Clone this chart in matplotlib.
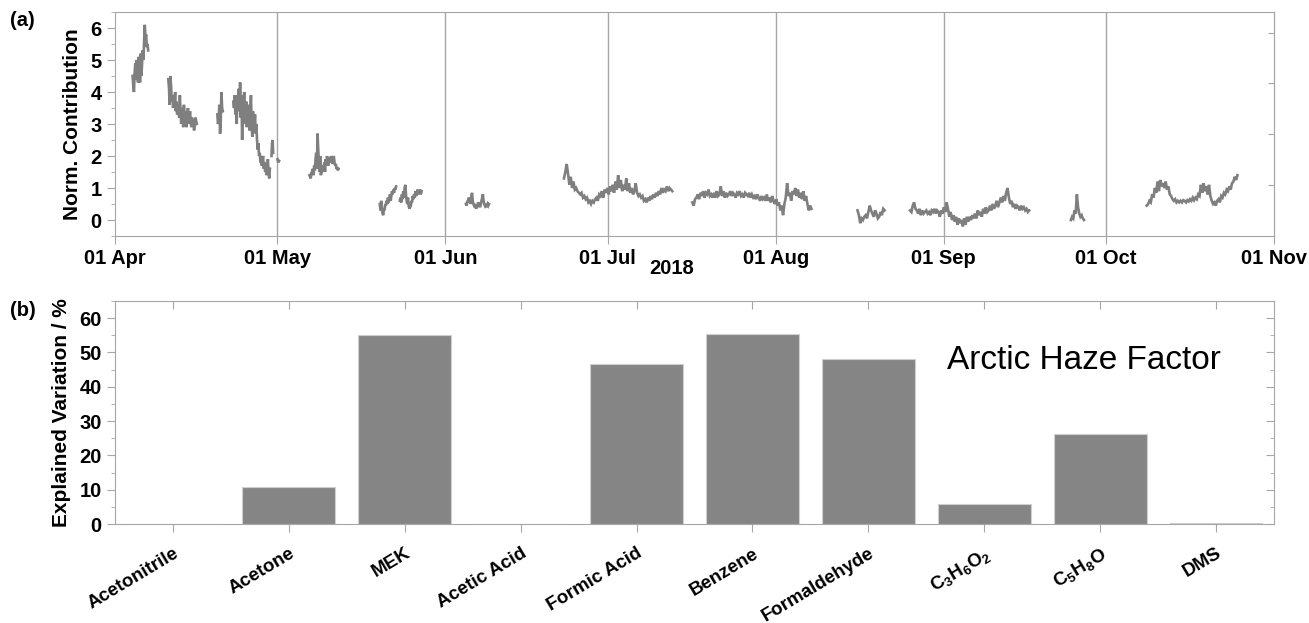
import numpy as np
import pandas as pd
import matplotlib
matplotlib.use("Agg")
import matplotlib.pyplot as plt
import matplotlib.dates as mdates
import matplotlib.transforms as mtransforms
from matplotlib.ticker import MultipleLocator, NullFormatter

plt.rcParams['font.family'] = ['Liberation Sans', 'DejaVu Sans']
plt.rcParams['mathtext.fontset'] = 'custom'
plt.rcParams['mathtext.bf'] = 'Liberation Sans:bold'
plt.rcParams['mathtext.rm'] = 'Liberation Sans'

# ---------------- Data: panel (a) time series (days since 2018-04-01) ----------------
seg01_start, seg01_step = 3.25, 0.125
seg01 = [4.5, 4.2, 4.0, 4.6, 4.9, 4.4, 5.0, 4.6, 4.3, 5.1, 4.8, 4.3, 5.2, 4.5, 4.9, 5.3,
         5.0, 5.6, 6.1, 5.7, 5.8, 5.4, 5.5, 5.3]
seg02_start, seg02_step = 9.85, 0.125
seg02 = [4.4, 4.1, 3.6, 4.5, 4.2, 3.7, 3.9, 3.5, 3.8, 3.6, 4.0, 3.4, 3.7, 3.3, 3.6, 3.5,
         3.2, 3.9, 3.4, 3.0, 3.5, 3.3, 2.9, 3.6, 3.2, 3.4, 3.1, 2.9, 3.3, 3.5, 3.0, 3.2,
         3.4, 3.1, 2.9, 3.2, 3.0, 3.1, 2.8, 3.0, 3.2, 3.1, 3.0]
seg03_start, seg03_step = 18.9, 0.125
seg03 = [3.3, 3.0, 3.2, 3.6, 2.7, 3.1, 4.0, 3.5, 3.4]
seg04_start, seg04_step = 21.85, 0.125
seg04 = [3.7, 3.5, 3.9, 3.3, 3.8, 3.0, 3.9, 3.6, 4.1, 3.4, 4.3,
         3.2, 3.9, 2.5, 3.6, 3.3, 4.0, 3.0, 3.4, 3.7, 2.9, 3.5, 3.1,
         3.6, 2.8, 3.3, 3.9, 3.0, 2.6, 3.4, 3.1, 2.9, 3.3, 2.7, 3.0, 2.5,
         2.2, 2.4, 2.0, 2.1, 1.8, 2.0, 1.7, 1.9, 2.0, 1.6,
         1.8, 1.5, 1.7, 1.4, 1.6, 1.9, 1.5, 1.3, 1.6]
seg05_start, seg05_step = 28.9, 0.1
seg05 = [2.0, 2.4, 2.5, 2.1]
seg06_start, seg06_step = 30.0, 0.15
seg06 = [1.9, 1.8, 1.85]
seg07_start, seg07_step = 35.9, 0.125
seg07 = [1.4, 1.35, 1.3, 1.5, 1.45, 1.6, 1.4, 1.7, 1.55,
         1.9, 2.1, 1.6, 2.7, 2.2, 1.8, 1.5, 2.0, 1.4,
         1.6, 1.5, 1.7, 1.6, 1.8, 1.5, 1.9, 1.7, 2.0, 1.8, 1.7, 1.9,
         1.95, 1.8, 2.0, 1.9, 1.75, 1.85, 2.0, 1.8, 1.7, 1.75, 1.6, 1.65, 1.55, 1.6]
seg08_start, seg08_step = 48.9, 0.125
seg08 = [0.5, 0.3, 0.6, 0.4, 0.2, 0.15, 0.35, 0.3, 0.5, 0.45, 0.6, 0.5, 0.7, 0.55, 0.65,
         0.8, 0.6, 0.75, 0.9, 0.8, 0.95, 0.85, 1.0, 0.95, 1.05]
seg09_start, seg09_step = 52.6, 0.125
seg09 = [0.6, 0.7, 0.55, 0.8, 0.65, 0.9, 0.7, 1.0, 1.1, 0.8, 0.6, 0.5, 0.7, 0.45, 0.35,
         0.5, 0.4, 0.6, 0.55, 0.75, 0.65, 0.8, 0.7, 0.9, 0.75, 0.85, 0.95, 0.8, 0.9, 0.85,
         0.95, 0.8, 0.9]
seg10_start, seg10_step = 64.8, 0.125
seg10 = [0.5, 0.45, 0.6, 0.55, 0.7, 0.6, 0.65, 0.5, 0.75, 0.85, 0.6, 0.5, 0.45, 0.4, 0.5,
         0.35, 0.45, 0.4, 0.55, 0.5, 0.45, 0.4, 0.5, 0.6, 0.7, 0.8, 0.6, 0.5, 0.45, 0.5,
         0.4, 0.45, 0.5, 0.45, 0.5]
seg11_start, seg11_step = 82.9, 0.25
seg11 = [1.3, 1.5, 1.75, 1.45, 1.1, 1.35, 1.0, 1.2, 0.95, 1.0, 0.9, 0.85,
         0.8, 0.85, 0.7, 0.75, 0.65, 0.7, 0.55, 0.6, 0.5, 0.6, 0.55, 0.65,
         0.7, 0.6, 0.8, 0.75, 0.9, 0.7, 0.95, 0.85, 1.0, 0.8, 1.05, 0.9,
         1.1, 0.85, 1.2, 0.95, 1.4, 1.0, 1.25, 0.9, 1.1, 0.95, 1.3, 0.9,
         1.15, 0.85, 1.0, 0.8, 0.9, 1.15, 0.85, 0.75, 0.8, 0.7, 0.75, 0.6,
         0.65, 0.55, 0.7, 0.6, 0.75, 0.65, 0.8, 0.7, 0.85, 0.75, 0.9, 0.8,
         1.0, 0.85, 0.95, 0.9, 1.05, 0.9, 1.0, 0.95, 0.9]
seg12_start, seg12_step = 106.6, 0.25
seg12 = [0.55, 0.45, 0.65, 0.7, 0.8, 0.65, 0.85, 0.75, 0.9, 0.7, 0.85, 0.8,
         0.95, 0.75, 0.8, 0.7, 0.85, 0.7, 0.9, 0.75, 0.8, 1.05, 0.75, 0.9,
         0.7, 0.85, 0.75, 0.8, 0.9, 0.75, 0.85, 0.8, 0.7, 0.85, 0.8, 0.9,
         0.75, 0.8, 0.7, 0.85, 0.8, 0.75, 0.85, 0.7, 0.8, 0.7, 0.75, 0.65,
         0.8, 0.7, 0.6, 0.75, 0.65, 0.7, 0.6, 0.8, 0.6, 0.7, 0.55, 0.75,
         0.6, 0.5, 0.65, 0.45, 0.55, 0.3, 0.45, 0.15, 0.5, 0.7, 1.15, 0.75,
         0.85, 0.6, 0.9, 0.8, 1.0, 0.75, 0.95, 0.7, 0.85, 0.65, 0.9, 0.6,
         0.75, 0.5, 0.3, 0.45, 0.35]
seg13_start, seg13_step = 137.1, 0.25
seg13 = [0.3, 0.15, -0.1, 0.05, 0.0, 0.1, 0.15, 0.05, 0.25, 0.45, 0.3, 0.2, 0.1, 0.3,
         0.2, 0.05, 0.1, 0.25, 0.15, 0.35, 0.3]
seg14_start, seg14_step = 146.8, 0.25
seg14 = [0.3, 0.25, 0.45, 0.55, 0.35, 0.3, 0.2, 0.35, 0.15, 0.3, 0.2, 0.25,
         0.3, 0.2, 0.25, 0.15, 0.3, 0.25, 0.35, 0.2, 0.3, 0.25, 0.1, 0.3,
         0.2, 0.4, 0.25, 0.55, 0.35, 0.1, 0.25, 0.0, 0.15, -0.05, 0.1, -0.15,
         0.05, -0.1, 0.0, -0.2, 0.05, -0.15, 0.1, -0.05, 0.1, 0.0, 0.15, 0.05,
         0.2, 0.05, 0.3, 0.15, 0.25, 0.1, 0.35, 0.2, 0.4, 0.25, 0.3, 0.45,
         0.3, 0.5, 0.35, 0.45, 0.6, 0.4, 0.55, 0.7, 0.55, 0.75, 0.6, 0.85,
         1.0, 0.7, 0.5, 0.6, 0.4, 0.5, 0.35, 0.45, 0.4, 0.3, 0.45, 0.35,
         0.4, 0.3, 0.35, 0.25, 0.3]
seg15_start, seg15_step = 176.5, 0.22
seg15 = [0.0, 0.1, 0.05, 0.3, 0.2, 0.8, 0.4, 0.2, 0.1, 0.15, 0.05, 0.0]
seg16_start, seg16_step = 190.5, 0.25
seg16 = [0.45, 0.5, 0.6, 0.55, 0.8, 0.7, 1.0, 0.85, 1.2, 0.9, 1.25, 1.05,
         1.15, 1.0, 1.2, 0.95, 1.05, 0.8, 0.75, 0.65, 0.6, 0.65, 0.55, 0.6,
         0.55, 0.6, 0.55, 0.62, 0.6, 0.55, 0.62, 0.58, 0.65, 0.6, 0.7, 0.62,
         0.7, 0.65, 0.8, 0.75, 1.1, 0.85, 1.15, 0.9, 1.05, 0.8, 1.1, 0.75,
         0.6, 0.5, 0.55, 0.45, 0.6, 0.65, 0.55, 0.75, 0.7, 0.85, 0.8, 0.95,
         0.9, 1.05, 0.95, 1.15, 1.2, 1.35, 1.25, 1.4]

segments = [
    (seg01_start, seg01_step, seg01), (seg02_start, seg02_step, seg02),
    (seg03_start, seg03_step, seg03), (seg04_start, seg04_step, seg04),
    (seg05_start, seg05_step, seg05), (seg06_start, seg06_step, seg06),
    (seg07_start, seg07_step, seg07), (seg08_start, seg08_step, seg08),
    (seg09_start, seg09_step, seg09), (seg10_start, seg10_step, seg10),
    (seg11_start, seg11_step, seg11), (seg12_start, seg12_step, seg12),
    (seg13_start, seg13_step, seg13), (seg14_start, seg14_step, seg14),
    (seg15_start, seg15_step, seg15), (seg16_start, seg16_step, seg16),
]
t0 = pd.Timestamp('2018-04-01')

# ---------------- Data: panel (b) bars ----------------
species = ['Acetonitrile', 'Acetone', 'MEK', 'Acetic Acid', 'Formic Acid', 'Benzene',
           'Formaldehyde', r'$\mathbf{C_3H_6O_2}$', r'$\mathbf{C_5H_8O}$', 'DMS']
explained = [0.0, 10.9, 55.0, 0.0, 46.7, 55.5, 48.1, 5.9, 26.3, 0.2]

month_ticks = ['2018-04-01', '2018-05-01', '2018-06-01', '2018-07-01', '2018-08-01',
               '2018-09-01', '2018-10-01', '2018-11-01']

# ---------------- Figure ----------------
W, H = 1309, 623
fig = plt.figure(figsize=(W / 100, H / 100), dpi=100)
spine_c = '#a6a6a6'
line_c = '#7f7f7f'
TICK_FS = 14.5
LAB_FS = 15

def px_axes(l, t, r, b):
    return fig.add_axes([l / W, 1 - b / H, (r - l) / W, (b - t) / H])

# Panel (a)
ax1 = px_axes(115, 12, 1274, 236)
xs, ys = [], []
for start, step, vals in segments:
    tt = t0 + pd.to_timedelta(start + step * np.arange(len(vals)), unit='D')
    xs.extend(list(mdates.date2num(tt)))
    ys.extend(vals)
    xs.append(np.nan)
    ys.append(np.nan)
ax1.plot(xs, ys, color=line_c, lw=1.9, solid_joinstyle='miter')
mt = [mdates.date2num(pd.Timestamp(m)) for m in month_ticks]
ax1.set_xlim(mt[0], mt[-1])
ax1.set_ylim(-0.5, 6.5)
ax1.set_xticks(mt)
ax1.set_xticklabels([pd.Timestamp(m).strftime('%d %b') for m in month_ticks],
                    fontsize=TICK_FS, fontweight='bold')
for m in mt[1:-1]:
    ax1.axvline(m, color=spine_c, lw=1, zorder=0)
ax1.yaxis.set_major_locator(MultipleLocator(1))
ax1.yaxis.set_minor_locator(MultipleLocator(0.5))
ax1.tick_params(axis='y', which='major', labelsize=TICK_FS, length=6, color=spine_c)
ax1.tick_params(axis='y', which='minor', length=3, color=spine_c)
ax1.tick_params(axis='x', length=6, color=spine_c, pad=3)
for lab in ax1.get_yticklabels():
    lab.set_fontweight('bold')
ax1.set_ylabel('Norm. Contribution', fontsize=LAB_FS, fontweight='bold', labelpad=6)
fig.text(672 / W, 1 - 268 / H, '2018', fontsize=TICK_FS, fontweight='bold',
         ha='center', va='center')
for s in ax1.spines.values():
    s.set_color(spine_c)
sec = ax1.secondary_yaxis('right')
sec.set_yticks([1.09, 2.69, 4.28, 5.84])
sec.yaxis.set_major_formatter(NullFormatter())
sec.tick_params(direction='in', length=4, color=spine_c)
sec.spines['right'].set_color(spine_c)
fig.text(10 / W, 1 - 20 / H, '(a)', fontsize=14.5, fontweight='bold', va='center', ha='left')

# Panel (b)
ax2 = px_axes(115, 301, 1274, 524)
pos = np.arange(len(species))
ax2.bar(pos, explained, width=0.8, color='#858585', edgecolor='#d0d0d0', linewidth=0.8)
ax2.set_xlim(-0.5, len(species) - 0.5)
ax2.set_ylim(0, 65)
ax2.set_xticks(pos)
ax2.set_xticklabels(species, rotation=31, ha='right', rotation_mode='anchor',
                    fontsize=13.5, fontweight='bold')
shift = mtransforms.ScaledTranslation(10 / 100, 0, fig.dpi_scale_trans)
for lab in ax2.get_xticklabels():
    lab.set_transform(lab.get_transform() + shift)
ax2.yaxis.set_major_locator(MultipleLocator(10))
ax2.yaxis.set_minor_locator(MultipleLocator(5))
ax2.tick_params(axis='y', which='major', labelsize=TICK_FS, length=6, color=spine_c,
                right=True)
ax2.tick_params(axis='y', which='minor', length=3, color=spine_c, right=True)
ax2.tick_params(axis='y', which='both', direction='out')
ax2.tick_params(axis='x', length=6, color=spine_c, top=True, pad=9)
for lab in ax2.get_yticklabels():
    lab.set_fontweight('bold')
ax2.set_ylabel('Explained Variation / %', fontsize=LAB_FS, fontweight='bold', labelpad=6)
for s in ax2.spines.values():
    s.set_color(spine_c)
ax2.yaxis.set_tick_params(which='both', right=True)
for t in ax2.yaxis.get_major_ticks() + ax2.yaxis.get_minor_ticks():
    t.tick2line.set_marker(matplotlib.lines.TICKLEFT)
for t in ax2.xaxis.get_major_ticks():
    t.tick2line.set_marker(matplotlib.lines.TICKDOWN)
ax2.text(0.836, 0.733, 'Arctic Haze Factor', transform=ax2.transAxes, fontsize=24,
         ha='center', va='center')
fig.text(10 / W, 1 - 310 / H, '(b)', fontsize=14.5, fontweight='bold', va='center', ha='left')

fig.savefig('out.png', dpi=100)
